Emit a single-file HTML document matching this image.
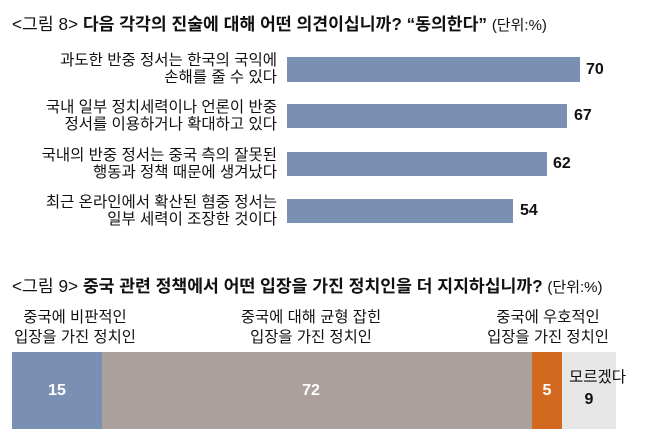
<!DOCTYPE html>
<html>
<head>
<meta charset="utf-8">
<style>
  html, body { margin:0; padding:0; background:#fff; }
  body { width:658px; height:440px; position:relative; overflow:hidden;
         font-family:"Liberation Sans","Noto Sans CJK KR",sans-serif; color:#111; }
  .abs { position:absolute; white-space:nowrap; }
  .title { font-size:17.2px; line-height:20px; }
  .title b { font-weight:700; }
  .title .u { font-size:15px; }
  .lbl { font-size:15.5px; line-height:16.5px; text-align:right; right:381px; }
  .bar { position:absolute; background:#7a90b2; }
  .val { font-size:16px; font-weight:700; line-height:20px; }
  .blbl { font-size:15.4px; line-height:20px; text-align:center; }
  .seg { position:absolute; top:352px; height:77px; }
  .sv { font-size:16px; font-weight:700; line-height:20px; color:#fff; text-align:center; }
</style>
</head>
<body>
  <div class="abs title" style="left:12px; top:14px;">&lt;그림 8&gt; <b>다음 각각의 진술에 대해 어떤 의견이십니까? “동의한다”</b> <span class="u">(단위:%)</span></div>

  <div class="abs lbl" style="top:53px;">과도한 반중 정서는 한국의 국익에<br>손해를 줄 수 있다</div>
  <div class="bar" style="left:287px; top:57px; width:293px; height:25px;"></div>
  <div class="abs val" style="left:586px; top:60px;">70</div>

  <div class="abs lbl" style="top:100px;">국내 일부 정치세력이나 언론이 반중<br>정서를 이용하거나 확대하고 있다</div>
  <div class="bar" style="left:287px; top:104px; width:280px; height:24px;"></div>
  <div class="abs val" style="left:574px; top:106px;">67</div>

  <div class="abs lbl" style="top:148px;">국내의 반중 정서는 중국 측의 잘못된<br>행동과 정책 때문에 생겨났다</div>
  <div class="bar" style="left:287px; top:152px; width:260px; height:24px;"></div>
  <div class="abs val" style="left:553px; top:154px;">62</div>

  <div class="abs lbl" style="top:195px;">최근 온라인에서 확산된 혐중 정서는<br>일부 세력이 조장한 것이다</div>
  <div class="bar" style="left:287px; top:199px; width:226px; height:24px;"></div>
  <div class="abs val" style="left:520px; top:201px;">54</div>

  <div class="abs title" style="left:12px; top:276px;">&lt;그림 9&gt; <b>중국 관련 정책에서 어떤 입장을 가진 정치인을 더 지지하십니까?</b> <span class="u">(단위:%)</span></div>

  <div class="abs blbl" style="left:0px; width:150px; top:308px;">중국에 비판적인<br>입장을 가진 정치인</div>
  <div class="abs blbl" style="left:211px; width:200px; top:308px;">중국에 대해 균형 잡힌<br>입장을 가진 정치인</div>
  <div class="abs blbl" style="left:473px; width:150px; top:308px;">중국에 우호적인<br>입장을 가진 정치인</div>

  <div class="seg" style="left:12px; width:90px; background:#7a90b2;"></div>
  <div class="seg" style="left:102px; width:430px; background:#aba09c;"></div>
  <div class="seg" style="left:532px; width:30px; background:#d2691f;"></div>
  <div class="seg" style="left:562px; width:54px; background:#e7e7e7;"></div>

  <div class="abs sv" style="left:12px; width:90px; top:381px;">15</div>
  <div class="abs sv" style="left:291px; width:40px; top:381px;">72</div>
  <div class="abs sv" style="left:532px; width:30px; top:381px;">5</div>
  <div class="abs" style="left:569px; top:368px; font-size:15.5px; line-height:20px;">모르겠다</div>
  <div class="abs" style="left:579px; width:20px; text-align:center; top:390px; font-size:16px; font-weight:700; line-height:20px;">9</div>
</body>
</html>
